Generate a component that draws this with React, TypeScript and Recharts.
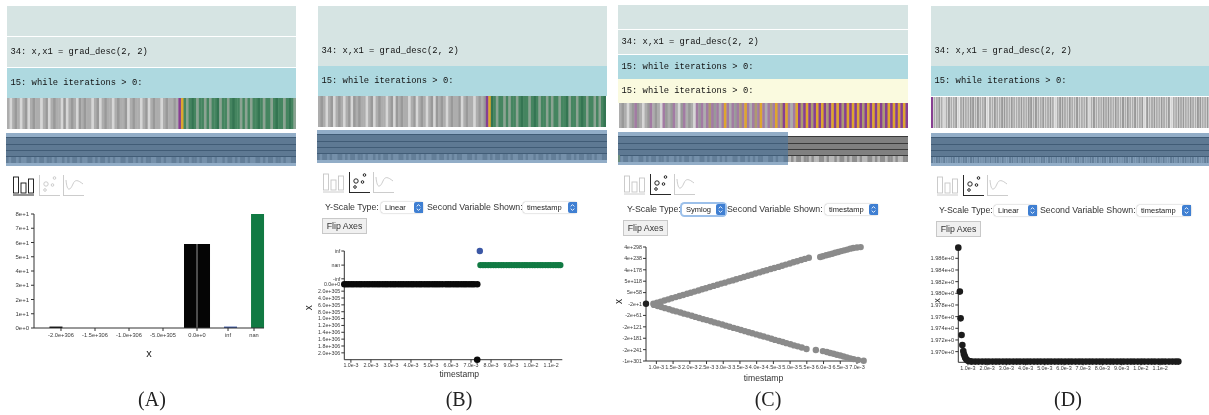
import React from "react";
import {
  Bar,
  BarChart,
  Cell,
  ComposedChart,
  ReferenceLine,
  Scatter,
  ScatterChart,
  XAxis,
  YAxis,
} from "recharts";

// ---- trace stripes: one letter per stripe, colours in stripeColors
const stripesA =
  "acabacabcabaacabcabaacbcabacbabaacabcabaacabaabcabaacabcabaacabaaba" + "po" +
  "ghgdghgghghggdhgghgdgghghghggdghgghgdgghgdgh";
const stripesB =
  "abacabcabacabcbabaacabcabaacabcbabaacabcabacabcbabacabaabcabaacabab" + "po" +
  "dghgghghgghgdgghgdghgghghgghggdhgghgdghgghghgd";
const stripesC =
  "abacabmbacabmabacmbabmacbmabac" + "mbmamnmbmamomambmnmomamnmomamnmomnpomamo" +
  "pnpopnpopopnpopopnpopopopnpopopopnpopopopop";
const stripesD =
  "paabacabaabcabaabbabaabcaabaabbaabaaabaabbabaabaabacabbaabaabaaabcabaaababaabaab" +
  "abaabaabcbaabaabaabcaababaabaabbaab";
const minimapTicks =
  "tuttutuuttututtuttutuutututtutuuttututtututuuttuttutututtuuttutuuttututtuttutuuttutuututtututtutuuttututtuttutuutt";

const stripeColors: Record<string, string> = {
  a: "#adadad",
  b: "#999999",
  c: "#d6d6d6",
  m: "#a27ba3",
  n: "#ad9a72",
  p: "#873f92",
  o: "#dda62f",
  g: "#458560",
  d: "#347552",
  h: "#8ba392",
  t: "#8e8e8e",
  u: "#b8b8b8",
};

// ---- (A) histogram of x
const histX = [-2.074e306, -9.56e304, 9.56e304, 4.93e305, 8.9e305];
const histCount = [1, 59, 59, 1, 80];
const histColors = ["#050505", "#050505", "#050505", "#3b57a5", "#117a43"];
const histXTicks = [-2e306, -1.5e306, -1e306, -5e305, 0, 4.56e305, 8.38e305];
const histXLabels = ["-2.0e+306", "-1.5e+306", "-1.0e+306", "-5.0e+305", "0.0e+0", "inf", "nan"];
const histYTicks = [0, 10, 20, 30, 40, 50, 60, 70, 80];
const histYLabels = ["0e+0", "1e+1", "2e+1", "3e+1", "4e+1", "5e+1", "6e+1", "7e+1", "8e+1"];

// ---- (B) x over timestamp, x in units of 1e305, inf / nan / -inf sit above zero
const bBlackTime = [
  0.67, 0.78, 0.9, 1.03, 1.15, 1.29, 1.42, 1.54, 1.68, 1.81, 1.93, 2.07, 2.2, 2.33, 2.45, 2.59, 2.72, 2.84,
  2.98, 3.11, 3.23, 3.37, 3.5, 3.62, 3.76, 3.89, 4.02, 4.14, 4.28, 4.41, 4.53, 4.67, 4.8, 4.92, 5.06, 5.19,
  5.31, 5.44, 5.58, 5.74, 5.86, 5.98, 6.12, 6.25, 6.37, 6.51, 6.64, 6.76, 6.9, 7.03, 7.15, 7.31,
];
const bGreenTime = [
  7.47, 7.6, 7.72, 7.86, 7.99, 8.12, 8.24, 8.38, 8.51, 8.63, 8.77, 8.9, 9.02, 9.16, 9.29, 9.41, 9.55, 9.68,
  9.8, 9.94, 10.07, 10.19, 10.33, 10.46, 10.58, 10.72, 10.85, 10.97, 11.11, 11.24, 11.36, 11.46,
];
const bBlueTime = [7.44];
const bLowTime = [7.31];
const bInf = -9.72;
const bNan = -5.6;
const bNegInf = -1.6;
const bLow = 22;
const bYTicks = [bInf, bNan, bNegInf, 0, 2, 4, 6, 8, 10, 12, 14, 16, 18, 20];
const bYLabels = [
  "inf", "nan", "-inf", "0.0e+0", "2.0e+305", "4.0e+305", "6.0e+305", "8.0e+305", "1.0e+306", "1.2e+306",
  "1.4e+306", "1.6e+306", "1.8e+306", "2.0e+306",
];
const bXTicks = [1, 2, 3, 4, 5, 6, 7, 8, 9, 10, 11];
const bXLabels = [
  "1.0e-3", "2.0e-3", "3.0e-3", "4.0e-3", "5.0e-3", "6.0e-3", "7.0e-3", "8.0e-3", "9.0e-3", "1.0e-2", "1.1e-2",
];

// ---- (C) symlog view, y is the signed exponent of x
const cUpperTime = [
  0.91, 1.02, 1.13, 1.24, 1.35, 1.46, 1.58, 1.69, 1.8, 1.92, 2.03, 2.14, 2.26, 2.37, 2.48, 2.6, 2.71, 2.83,
  2.94, 3.05, 3.17, 3.28, 3.39, 3.51, 3.62, 3.74, 3.85, 3.96, 4.08, 4.19, 4.3, 4.42, 4.53, 4.65, 4.76, 4.87,
  4.99, 5.1, 5.21, 5.33, 5.44, 5.56, 5.9, 5.98, 6.08, 6.17, 6.26, 6.35, 6.44, 6.53, 6.62, 6.71, 6.8, 6.89,
  7.0, 7.11,
];
const cUpperExp = [
  0, 6, 11, 17, 23, 29, 35, 41, 46, 53, 58, 64, 70, 76, 82, 88, 94, 100, 106, 111, 118, 123, 129, 135, 141,
  147, 153, 159, 165, 171, 176, 183, 188, 194, 200, 206, 212, 218, 224, 230, 236, 242, 246, 250, 255, 259,
  263, 268, 272, 277, 281, 285, 290, 293, 296, 298,
];
const cLowerTime = [
  0.93, 1.04, 1.15, 1.26, 1.38, 1.49, 1.6, 1.72, 1.83, 1.94, 2.06, 2.17, 2.28, 2.4, 2.51, 2.63, 2.74, 2.85,
  2.97, 3.08, 3.19, 3.31, 3.42, 3.53, 3.65, 3.76, 3.87, 3.99, 4.1, 4.21, 4.33, 4.44, 4.55, 4.67, 4.78, 4.89,
  5.01, 5.12, 5.23, 5.35, 5.49, 5.77, 5.98, 6.1, 6.2, 6.3, 6.4, 6.5, 6.6, 6.7, 6.8, 6.9, 7.03, 7.2,
];
const cLowerExp = [
  -6, -12, -17, -23, -29, -35, -40, -46, -52, -57, -63, -69, -75, -81, -86, -92, -98, -103, -109, -115, -121,
  -127, -132, -138, -144, -150, -155, -161, -167, -172, -178, -184, -190, -196, -201, -207, -213, -219, -224,
  -230, -238, -243, -249, -254, -259, -263, -268, -272, -277, -282, -287, -291, -296, -300,
];
const cStartTime = [0.69];
const cStartExp = [0];
const cYTicks = [298.6, 238.6, 178.6, 118.7, 58.7, -1.3, -61.3, -121.3, -181.3, -241.3, -301];
const cYLabels = [
  "4e+298", "4e+238", "4e+178", "5e+118", "5e+58", "-2e+1", "-2e+61", "-2e+121", "-2e+181", "-2e+241", "-1e+301",
];
const cXTicks = [1, 1.5, 2, 2.5, 3, 3.5, 4, 4.5, 5, 5.5, 6, 6.5, 7];
const cXLabels = [
  "1.0e-3", "1.5e-3", "2.0e-3", "2.5e-3", "3.0e-3", "3.5e-3", "4.0e-3", "4.5e-3", "5.0e-3", "5.5e-3", "6.0e-3",
  "6.5e-3", "7.0e-3",
];

// ---- (D) x zoomed to the start of the run
const dHeadTime = [0.5, 0.58, 0.62, 0.67, 0.71, 0.76, 0.79, 0.83, 0.86, 0.91, 0.97, 1.03, 1.12];
const dHeadValue = [
  1.98783, 1.98029, 1.97571, 1.97286, 1.97114, 1.97011, 1.9696, 1.96926, 1.96897, 1.96869, 1.96851, 1.9684, 1.96834,
];
const dRowTime = [
  1.2, 1.38, 1.55, 1.74, 1.92, 2.09, 2.28, 2.46, 2.63, 2.82, 3.0, 3.17, 3.36, 3.54, 3.71, 3.9, 4.08, 4.25,
  4.44, 4.62, 4.79, 4.98, 5.16, 5.33, 5.52, 5.7, 5.87, 6.06, 6.24, 6.41, 6.6, 6.78, 6.95, 7.14, 7.32, 7.49,
  7.68, 7.86, 8.03, 8.22, 8.4, 8.57, 8.76, 8.94, 9.11, 9.3, 9.48, 9.65, 9.84, 10.02, 10.19, 10.38, 10.56,
  10.73, 10.92, 11.1, 11.27, 11.46, 11.64, 11.81, 11.95,
];
const dRowValue = 1.96829;
const dYTicks = [1.97, 1.972, 1.974, 1.976, 1.978, 1.98, 1.982, 1.984, 1.986];
const dYLabels = [
  "1.970e+0", "1.972e+0", "1.974e+0", "1.976e+0", "1.978e+0", "1.980e+0", "1.982e+0", "1.984e+0", "1.986e+0",
];

const SANS = '"Liberation Sans", Arial, sans-serif';
const INK = "#3a3a3a";

const labelOf = (ticks: number[], labels: string[]) => (v: number) => labels[ticks.indexOf(v)] ?? "";
const points = (xs: number[], ys: number[]) => xs.map((x, i) => ({ x, y: ys[i] }));
const flatPoints = (xs: number[], y: number) => xs.map((x) => ({ x, y }));
const dot = (r: number) => (p: any) => <circle cx={p.cx} cy={p.cy} r={r} fill={p.fill} />;

function StripeBand({ codes, width, height }: { codes: string; width: number; height: number }) {
  const data = codes.split("").map((code, i) => ({ i, code, v: 1 }));
  return (
    <BarChart width={width} height={height} data={data} margin={{ top: 0, right: 0, bottom: 0, left: 0 }} barCategoryGap={0}>
      <XAxis dataKey="i" hide />
      <YAxis hide domain={[0, 1]} />
      <Bar dataKey="v" isAnimationActive={false}>
        {data.map((d) => (
          <Cell key={d.i} fill={stripeColors[d.code]} />
        ))}
      </Bar>
    </BarChart>
  );
}

function Band({ left, top, width, height, color, text }: any) {
  return (
    <div
      style={{
        position: "absolute",
        left,
        top,
        width,
        height,
        background: color,
        font: '8.8px "Liberation Mono", monospace',
        color: "#111",
        display: "flex",
        alignItems: "center",
        paddingLeft: 3.5,
        boxSizing: "border-box",
        whiteSpace: "pre",
      }}
    >
      {text}
    </div>
  );
}

// overview strip under the trace, blue overlay marks the selected range
function Minimap({ left, top, width, selected, marker }: any) {
  const rows = [4, 10.5, 16.5, 23];
  return (
    <div style={{ position: "absolute", left, top, width, height: 33 }}>
      <div style={{ position: "absolute", left: 0, top: 4, width, height: 20, background: "#808080" }} />
      {rows.map((y) => (
        <div key={y} style={{ position: "absolute", left: 0, top: y, width, height: 1, background: "#3a3a3a" }} />
      ))}
      <div style={{ position: "absolute", left: 0, top: 24, width, height: 6 }}>
        <StripeBand codes={minimapTicks} width={width} height={6} />
      </div>
      {marker && <div style={{ position: "absolute", left: 0, top: 23, width: 2, height: 7, background: "#9db04a" }} />}
      <div style={{ position: "absolute", left: 0, top: 0, width: selected, height: 33, background: "rgba(70,115,160,0.59)" }} />
    </div>
  );
}

function Icons({ left, top, active }: { left: number; top: number; active: number }) {
  const col = (i: number) => (i === active ? "#111" : "#c6c6c6");
  return (
    <svg style={{ position: "absolute", left, top }} width={72} height={22} fill="none">
      <g stroke={col(0)} strokeWidth={0.9}>
        <rect x={0.5} y={2} width={5} height={16} />
        <rect x={8} y={8} width={5} height={10} />
        <rect x={15.5} y={4} width={5} height={14} />
        <path d="M0 20H21" />
      </g>
      <g stroke={col(1)} strokeWidth={0.9}>
        <path d="M26.5 0V21M26.5 20.5H47" />
        <circle cx={33} cy={9} r={2.2} />
        <circle cx={32} cy={15} r={1.3} />
        <circle cx={39.5} cy={10} r={1.3} />
        <circle cx={41.5} cy={3} r={1.3} />
      </g>
      <g stroke={col(2)} strokeWidth={0.9}>
        <path d="M50.5 0V21M50.5 20.5H71" />
        <path d="M53 5C54 17 57 16 60 9C62 4 65 5 70 9" />
      </g>
    </svg>
  );
}

function Select({ left, top, width, text, focused }: any) {
  return (
    <div
      style={{
        position: "absolute",
        left,
        top,
        width,
        height: 11,
        background: "#fff",
        borderRadius: 2.5,
        boxShadow: focused ? "0 0 0 2px #9cc0ea" : "0 0 1.5px rgba(0,0,0,0.45)",
        font: `7.5px ${SANS}`,
        color: "#222",
        lineHeight: "11px",
        paddingLeft: 4,
        boxSizing: "border-box",
      }}
    >
      {text}
      <svg style={{ position: "absolute", right: 0, top: 0 }} width={9} height={11}>
        <path d="M2 0H9V11H2Q0 11 0 9V2Q0 0 2 0Z" fill="#3f7fd2" />
        <path d="M2.7 4.4L4.5 2.6L6.3 4.4M2.7 6.6L4.5 8.4L6.3 6.6" stroke="#fff" strokeWidth={0.9} fill="none" />
      </svg>
    </div>
  );
}

function Controls({ x, y, select1, text2, select2, width1, width2, scale, focused, btnX, btnY }: any) {
  const label: React.CSSProperties = { position: "absolute", top: y - 5, font: `8.8px ${SANS}`, color: "#333", lineHeight: "10px", whiteSpace: "pre" };
  return (
    <>
      <div style={{ ...label, left: x }}>Y-Scale Type:</div>
      <Select left={select1} top={y - 5.5} width={width1} text={scale} focused={focused} />
      <div style={{ ...label, left: text2 }}>Second Variable Shown:</div>
      <Select left={select2} top={y - 5.5} width={width2} text="timestamp" />
      <div
        style={{
          position: "absolute",
          left: btnX,
          top: btnY,
          width: 45,
          height: 16,
          background: "#f0f0f0",
          border: "1px solid #c8c8c8",
          boxSizing: "border-box",
          font: `8.8px ${SANS}`,
          color: "#333",
          lineHeight: "14px",
          textAlign: "center",
        }}
      >
        Flip Axes
      </div>
    </>
  );
}

function Caption({ x, text }: { x: number; text: string }) {
  return (
    <div style={{ position: "absolute", left: x - 30, width: 60, top: 388, textAlign: "center", font: '20px "Liberation Serif", serif', color: "#222" }}>
      {text}
    </div>
  );
}

const tickStyle = (fontSize: number) => ({ fontSize, fill: INK, fontFamily: SANS });
const axisStroke = { stroke: "#333" };
const LINE = "34: x,x1 = grad_desc(2, 2)";
const LOOP = "15: while iterations > 0:";
const teal = "#aed9e0";
const pale = "#d6e4e3";

export default function App() {
  return (
    <div style={{ position: "absolute", left: 0, top: 0, width: 1209, height: 415, background: "#fff", overflow: "hidden", filter: "blur(0.35px)" }}>
      {/* A */}
      <Band left={7} top={6} width={289} height={30} color={pale} />
      <Band left={7} top={37} width={289} height={30} color={pale} text={LINE} />
      <Band left={7} top={68} width={289} height={30} color={teal} text={LOOP} />
      <div style={{ position: "absolute", left: 7, top: 98 }}><StripeBand codes={stripesA} width={289} height={31} /></div>
      <Minimap left={6} top={133} width={290} selected={290} />
      <Icons left={13} top={175} active={0} />
      <div style={{ position: "absolute", left: 0, top: 205 }}>
        <ComposedChart
          width={280}
          height={175}
          data={points(histX, histCount)}
          margin={{ top: 9, right: 16, bottom: 0, left: 0 }}
        >
          <XAxis
            dataKey="x"
            type="number"
            domain={[-2.397e306, 9.85e305]}
            ticks={histXTicks}
            interval={0}
            tickFormatter={labelOf(histXTicks, histXLabels)}
            tick={tickStyle(5.7)}
            tickSize={3}
            tickMargin={2}
            axisLine={axisStroke}
            tickLine={axisStroke}
            height={52}
            label={{ value: "x", position: "insideBottom", offset: 23, fontSize: 11, fill: "#222", fontFamily: SANS }}
          />
          <YAxis
            type="number"
            domain={[0, 80]}
            ticks={histYTicks}
            interval={0}
            tickFormatter={labelOf(histYTicks, histYLabels)}
            tick={tickStyle(6)}
            tickSize={3}
            tickMargin={2}
            width={34}
            axisLine={axisStroke}
            tickLine={axisStroke}
          />
          <Bar dataKey="y" barSize={13} isAnimationActive={false}>
            {histColors.map((c, i) => (
              <Cell key={i} fill={c} />
            ))}
          </Bar>
          <ReferenceLine segment={[{ x: 0, y: 0 }, { x: 0, y: 59 }]} stroke="#666" strokeWidth={1.5} />
        </ComposedChart>
      </div>
      <Caption x={152} text="(A)" />

      {/* B */}
      <Band left={318} top={6} width={289} height={30} color={pale} />
      <Band left={318} top={36} width={289} height={30} color={pale} text={LINE} />
      <Band left={318} top={66} width={289} height={30} color={teal} text={LOOP} />
      <div style={{ position: "absolute", left: 318, top: 96 }}><StripeBand codes={stripesB} width={288} height={31} /></div>
      <Minimap left={317} top={130} width={290} selected={290} />
      <Icons left={323} top={172} active={1} />
      <Controls x={325} y={207} select1={381} width1={42} text2={427} select2={523} width2={54} scale="Linear" btnX={322} btnY={218} />
      <div style={{ position: "absolute", left: 297, top: 240 }}>
        <ScatterChart width={273} height={145} margin={{ top: 11, right: 7.7, bottom: 0, left: 8 }}>
          <XAxis
            dataKey="x"
            type="number"
            domain={[0.67, 11.56]}
            ticks={bXTicks}
            interval={0}
            tickFormatter={labelOf(bXTicks, bXLabels)}
            tick={tickStyle(5.3)}
            tickSize={3}
            tickMargin={1}
            axisLine={axisStroke}
            tickLine={axisStroke}
            height={25.3}
            label={{ value: "timestamp", position: "insideBottom", offset: 8, dx: 6, fontSize: 8.6, fill: "#333", fontFamily: SANS }}
          />
          <YAxis
            dataKey="y"
            type="number"
            reversed
            domain={[bInf, bLow]}
            ticks={bYTicks}
            interval={0}
            tickFormatter={labelOf(bYTicks, bYLabels)}
            tick={tickStyle(5.3)}
            tickSize={3}
            tickMargin={1}
            width={39.3}
            axisLine={axisStroke}
            tickLine={axisStroke}
            label={{ value: "x", angle: -90, position: "insideLeft", offset: 3, dy: 5, fontSize: 10, fill: "#222", fontFamily: SANS }}
          />
          <Scatter data={flatPoints(bBlackTime, 0)} fill="#0a0a0a" shape={dot(3.3)} isAnimationActive={false} />
          <Scatter data={flatPoints(bLowTime, bLow)} fill="#0a0a0a" shape={dot(3.3)} isAnimationActive={false} />
          <Scatter data={flatPoints(bBlueTime, bInf)} fill="#3b57a5" shape={dot(3.2)} isAnimationActive={false} />
          <Scatter data={flatPoints(bGreenTime, bNan)} fill="#117a43" shape={dot(3.2)} isAnimationActive={false} />
        </ScatterChart>
      </div>
      <Caption x={459} text="(B)" />

      {/* C */}
      <Band left={618} top={5} width={290} height={24} color={pale} />
      <Band left={618} top={30} width={290} height={24} color={pale} text={LINE} />
      <Band left={618} top={55} width={290} height={24} color={teal} text={LOOP} />
      <Band left={618} top={79} width={290} height={24} color="#fafadf" text={LOOP} />
      <div style={{ position: "absolute", left: 619, top: 103 }}><StripeBand codes={stripesC} width={289} height={25} /></div>
      <Minimap left={618} top={132} width={290} selected={170} marker />
      <Icons left={624} top={174} active={1} />
      <Controls x={627} y={209} select1={682} width1={43} text2={727} select2={825} width2={53} scale="Symlog" focused btnX={623} btnY={220} />
      <div style={{ position: "absolute", left: 610, top: 240 }}>
        <ScatterChart width={265} height={145} margin={{ top: 7, right: 10, bottom: 0, left: 0 }}>
          <XAxis
            dataKey="x"
            type="number"
            domain={[0.69, 7.24]}
            ticks={cXTicks}
            interval={0}
            tickFormatter={labelOf(cXTicks, cXLabels)}
            tick={tickStyle(5.5)}
            tickSize={3}
            tickMargin={1}
            axisLine={axisStroke}
            tickLine={axisStroke}
            height={24}
            label={{ value: "timestamp", position: "insideBottom", offset: 4, dx: 8, fontSize: 8.6, fill: "#333", fontFamily: SANS }}
          />
          <YAxis
            dataKey="y"
            type="number"
            domain={[-301, 298.6]}
            ticks={cYTicks}
            interval={0}
            tickFormatter={labelOf(cYTicks, cYLabels)}
            tick={tickStyle(5.3)}
            tickSize={3}
            tickMargin={1}
            width={36}
            axisLine={axisStroke}
            tickLine={axisStroke}
            label={{ value: "x", angle: -90, position: "insideLeft", offset: 8, fontSize: 10, fill: "#222", fontFamily: SANS }}
          />
          <Scatter data={points(cUpperTime, cUpperExp)} fill="#8b8b8b" shape={dot(3.2)} isAnimationActive={false} />
          <Scatter data={points(cLowerTime, cLowerExp)} fill="#8b8b8b" shape={dot(3.2)} isAnimationActive={false} />
          <Scatter data={points(cStartTime, cStartExp)} fill="#222" shape={dot(3.2)} isAnimationActive={false} />
        </ScatterChart>
      </div>
      <Caption x={768} text="(C)" />

      {/* D */}
      <Band left={931} top={6} width={278} height={30} color={pale} />
      <Band left={931} top={36} width={278} height={30} color={pale} text={LINE} />
      <Band left={931} top={66} width={278} height={30} color={teal} text={LOOP} />
      <div style={{ position: "absolute", left: 931, top: 97 }}><StripeBand codes={stripesD} width={278} height={31} /></div>
      <Minimap left={931} top={133} width={278} selected={278} />
      <Icons left={937} top={175} active={1} />
      <Controls x={939} y={210} select1={994} width1={43} text2={1040} select2={1137} width2={54} scale="Linear" btnX={936} btnY={221} />
      <div style={{ position: "absolute", left: 915, top: 240 }}>
        <ScatterChart width={280} height={145} margin={{ top: 7, right: 15.7, bottom: 0, left: 0 }}>
          <XAxis
            dataKey="x"
            type="number"
            domain={[0.51, 12]}
            ticks={bXTicks}
            interval={0}
            tickFormatter={labelOf(bXTicks, bXLabels)}
            tick={tickStyle(5.4)}
            tickSize={3}
            tickMargin={1}
            axisLine={axisStroke}
            tickLine={axisStroke}
            height={22.7}
          />
          <YAxis
            dataKey="y"
            type="number"
            domain={[1.96817, 1.98794]}
            ticks={dYTicks}
            interval={0}
            tickFormatter={labelOf(dYTicks, dYLabels)}
            tick={tickStyle(5.7)}
            tickSize={3}
            tickMargin={1}
            width={43.3}
            axisLine={axisStroke}
            tickLine={axisStroke}
            label={{ value: "x", angle: -90, position: "insideLeft", offset: 22, dy: -2, fontSize: 9, fill: "#222", fontFamily: SANS }}
          />
          <Scatter data={points(dHeadTime, dHeadValue)} fill="#1c1c1c" shape={dot(3.3)} isAnimationActive={false} />
          <Scatter data={flatPoints(dRowTime, dRowValue)} fill="#1c1c1c" shape={dot(3.3)} isAnimationActive={false} />
        </ScatterChart>
      </div>
      <Caption x={1068} text="(D)" />
    </div>
  );
}
